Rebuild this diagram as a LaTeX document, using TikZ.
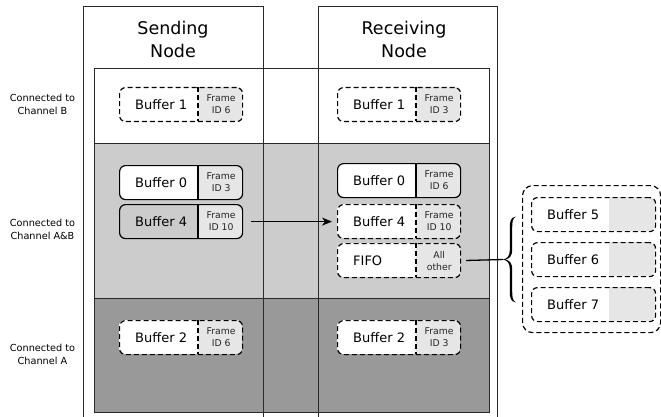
\documentclass[tikz,border=0pt]{standalone}
\usepackage{fontspec}
\setmainfont{DejaVu Sans}
\usetikzlibrary{arrows.meta,calc}
\definecolor{bandlight}{HTML}{CCCCCC}
\definecolor{banddark}{HTML}{999999}
\definecolor{idgray}{HTML}{E6E6E6}
\definecolor{linegray}{HTML}{2A2A2A}
\tikzset{
 colline/.style={draw=linegray, line width=1pt},
 bandline/.style={draw=linegray, line width=1pt},
 solidbuf/.style={draw=black, line width=1.2pt},
 dashbuf/.style={draw=black, line width=1.2pt, dash pattern=on 5pt off 3pt},
 buftext/.style={font=\fontsize{13}{15}\selectfont, inner sep=0pt, anchor=west},
 idtext/.style={font=\fontsize{9.3}{12}\selectfont, align=center, inner sep=0pt, text=black!85},
 sidetext/.style={font=\fontsize{9.7}{13}\selectfont, align=center, inner sep=0pt},
 titletext/.style={font=\fontsize{17.5}{23}\selectfont, align=center, inner sep=0pt},
 outline/.style={rectangle, rounded corners=6pt, minimum width=123pt, minimum height=34pt, inner sep=0pt, anchor=north west},
 arrowline/.style={line width=1.3pt, -{Stealth[length=10pt,width=8pt,inset=3pt]}},
 linkline/.style={line width=1.3pt},
}
% #1 name, #2 x0, #3 y0, #4 label, #5 frame text, #6 border style, #7 left fill
\newcommand{\bufcell}[7]{%
  \begin{scope}
    \clip[rounded corners=6pt] (#2,#3) rectangle ++(123,34);
    \fill[#7] (#2,#3) rectangle ++(79,34);
    \fill[idgray] (#2+79,#3) rectangle ++(44,34);
  \end{scope}
  \node[outline, #6] (#1) at (#2,#3) {};
  \draw[#6] (#2+79,#3) -- ++(0,34);
  \node[buftext] (#1txt) at ($(#1.west)+(16,0)$) {#4};
  \node[idtext] (#1id) at ($(#1.east)+(-22,0)$) {#5};
}
% #1 name, #2 y0, #3 label
\newcommand{\sidebuf}[3]{%
  \begin{scope}
    \clip[rounded corners=6pt] (531,#2) rectangle ++(124,34);
    \fill[white] (531,#2) rectangle ++(78,34);
    \fill[idgray] (609,#2) rectangle ++(46,34);
  \end{scope}
  \node[outline, dashbuf, minimum width=124pt] (#1) at (531,#2) {};
  \node[buftext] (#1txt) at ($(#1.west)+(16,0)$) {#3};
}
\begin{document}
\begin{tikzpicture}[x=1pt,y=-1pt]
\useasboundingbox (0,0) rectangle (661,417);
% bands
\fill[white] (94,69) rectangle (489,144);
\fill[bandlight] (94,144) rectangle (489,298);
\fill[banddark] (94,298) rectangle (489,412);
\draw[bandline] (94,69) rectangle (489,412);
\draw[bandline] (94,144) -- (489,144);
\draw[bandline] (94,298) -- (489,298);
% columns
\draw[colline] (83,417) -- (83,7) -- (263,7) -- (263,417);
\draw[colline] (318,417) -- (318,7) -- (497,7) -- (497,417);
% titles
\node[titletext] (tsend) at (173,39) {Sending\\Node};
\node[titletext] (trecv) at (404,39) {Receiving\\Node};
% side labels
\node[sidetext] (lb) at (42.5,104) {Connected to\\Channel B};
\node[sidetext] (lab) at (42.5,229.5) {Connected to\\Channel A\&B};
\node[sidetext] (la) at (42.5,354) {Connected to\\Channel A};
% sending buffers
\bufcell{bs1}{119}{87}{Buffer 1}{Frame\\ID 6}{dashbuf}{white}
\bufcell{bs0}{119}{165}{Buffer 0}{Frame\\ID 3}{solidbuf}{white}
\bufcell{bs4}{119}{204}{Buffer 4}{Frame\\ID 10}{solidbuf}{bandlight}
\bufcell{bs2}{119}{320}{Buffer 2}{Frame\\ID 6}{dashbuf}{white}
% receiving buffers
\bufcell{br1}{337}{87}{Buffer 1}{Frame\\ID 3}{dashbuf}{white}
\bufcell{br0}{337}{163}{Buffer 0}{Frame\\ID 6}{solidbuf}{white}
\bufcell{br4}{337}{204}{Buffer 4}{Frame\\ID 10}{dashbuf}{white}
\bufcell{fifo}{337}{243}{FIFO}{All\\other}{dashbuf}{white}
\bufcell{br2}{337}{320}{Buffer 2}{Frame\\ID 3}{dashbuf}{white}
% arrow
\draw[arrowline, shorten <=8pt, shorten >=5pt] (bs4.east) -- (br4.west);
% group of FIFO buffers
\node[dashbuf, rectangle, rounded corners=10pt, minimum width=138pt, minimum height=147pt, inner sep=0pt, anchor=north west] (grp) at (522,185) {};
\sidebuf{b5}{197}{Buffer 5}
\sidebuf{b6}{242}{Buffer 6}
\sidebuf{b7}{287}{Buffer 7}
% calligraphic brace
\fill[black] (516,216.5) .. controls (510.5,217.5) and (509.8,221) .. (509.8,228)
  -- (509.8,250) .. controls (509.8,256) and (507,258.8) .. (503,259.5)
  .. controls (507,260.2) and (509.8,263) .. (509.8,269)
  -- (509.8,291) .. controls (509.8,298) and (510.5,301.5) .. (516,302.5)
  .. controls (512.5,300.5) and (512.2,297) .. (512.2,291)
  -- (512.2,269) .. controls (512.2,264) and (510,260.5) .. (505.5,259.5)
  .. controls (510,258.5) and (512.2,255) .. (512.2,250)
  -- (512.2,228) .. controls (512.2,222) and (512.5,218.5) .. (516,216.5) -- cycle;
\coordinate (bracetip) at (503,259.5);
\draw[linkline, shorten <=5pt] (fifo.east) -- (bracetip);
\end{tikzpicture}
\end{document}
